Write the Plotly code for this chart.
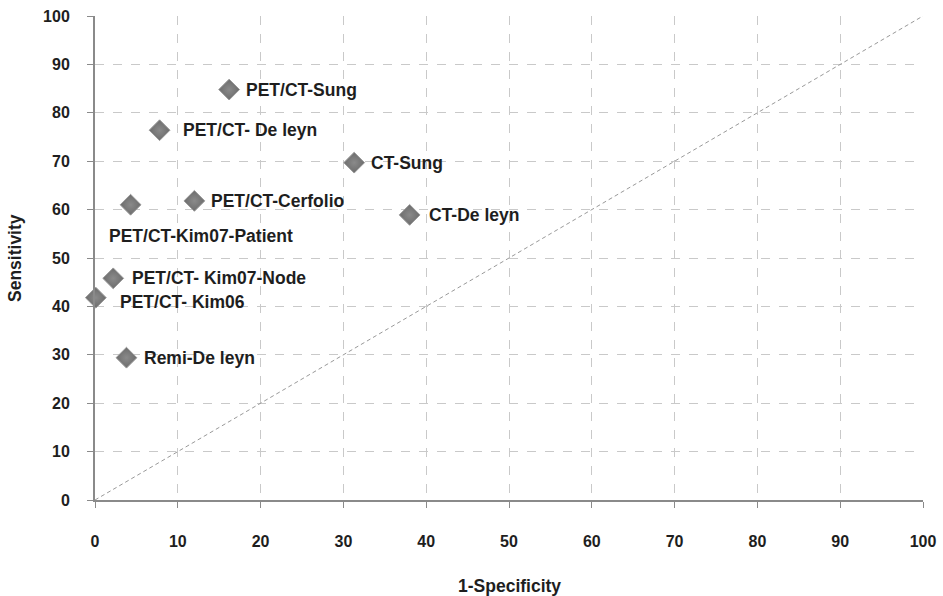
import plotly.graph_objects as go

# Data
studies = ["PET/CT-Sung", "PET/CT- De leyn", "CT-Sung", "PET/CT-Cerfolio",
           "PET/CT-Kim07-Patient", "CT-De leyn", "PET/CT- Kim07-Node",
           "PET/CT- Kim06", "Remi-De leyn"]
one_minus_spec = [16.2, 7.8, 31.3, 12.0, 4.3, 38.0, 2.2, 0.1, 3.8]
sensitivity = [84.8, 76.4, 69.7, 61.8, 61.0, 58.9, 45.8, 41.8, 29.4]
tick_vals = [0, 10, 20, 30, 40, 50, 60, 70, 80, 90, 100]
x_title = "1-Specificity"
y_title = "Sensitivity"

# label placement (pixel offsets from marker), style only
label_offsets = {
    "PET/CT-Sung": (15, 0),
    "PET/CT- De leyn": (21, 0),
    "CT-Sung": (15, 0),
    "PET/CT-Cerfolio": (15, 0),
    "PET/CT-Kim07-Patient": (-24, -31),
    "CT-De leyn": (17, 0),
    "PET/CT- Kim07-Node": (17, 0),
    "PET/CT- Kim06": (22, -4),
    "Remi-De leyn": (16, 0),
}

FONT = "Liberation Sans, Arial, sans-serif"
TXT = "#1e1e1e"
AX = "#8a8a8a"
GRID = "#c9c9c9"

fig = go.Figure()

# diagonal reference line
fig.add_trace(go.Scatter(
    x=[tick_vals[0], tick_vals[-1]], y=[tick_vals[0], tick_vals[-1]],
    mode="lines", line=dict(color="#999999", width=1, dash="4px,3px"),
    hoverinfo="skip", showlegend=False))

fig.add_trace(go.Scatter(
    x=one_minus_spec, y=sensitivity, mode="markers",
    marker=dict(symbol="diamond", size=16, color="#6c6c6c",
                gradient=dict(type="radial", color="#8a8a8a"),
                line=dict(color="#9a9a9a", width=1)),
    cliponaxis=False, showlegend=False, text=studies))

for name, xv, yv in zip(studies, one_minus_spec, sensitivity):
    dx, dy = label_offsets[name]
    fig.add_annotation(x=xv, y=yv, text="<b>%s</b>" % name, showarrow=False,
                       xanchor="left", yanchor="middle", xshift=dx, yshift=dy,
                       font=dict(family=FONT, size=17.5, color=TXT))

# axis titles
fig.add_annotation(xref="paper", yref="paper", x=0.5, y=0, yshift=-86,
                   text="<b>%s</b>" % x_title, showarrow=False,
                   xanchor="center", yanchor="middle",
                   font=dict(family=FONT, size=17.5, color=TXT))
fig.add_annotation(xref="paper", yref="paper", x=0, y=0.5, xshift=-80,
                   text="<b>%s</b>" % y_title, showarrow=False, textangle=-90,
                   xanchor="center", yanchor="middle",
                   font=dict(family=FONT, size=17.5, color=TXT))

axis_common = dict(
    range=[0, 100], tickvals=tick_vals, showgrid=True, gridcolor=GRID,
    griddash="dash", gridwidth=1, zeroline=False, showline=True,
    linecolor=AX, linewidth=2, ticks="outside", ticklen=6, tickcolor=AX,
    tickwidth=1, automargin=False,
    tickfont=dict(family=FONT, size=16, color=TXT, weight="bold"),
)

fig.update_layout(
    width=943, height=596,
    margin=dict(l=95, r=20, t=16, b=96),
    paper_bgcolor="white", plot_bgcolor="white",
    font=dict(family=FONT, color=TXT),
    xaxis=dict(**axis_common, ticklabelstandoff=20),
    yaxis=dict(**axis_common, ticklabelstandoff=14),
)

fig.write_html("out.html")
